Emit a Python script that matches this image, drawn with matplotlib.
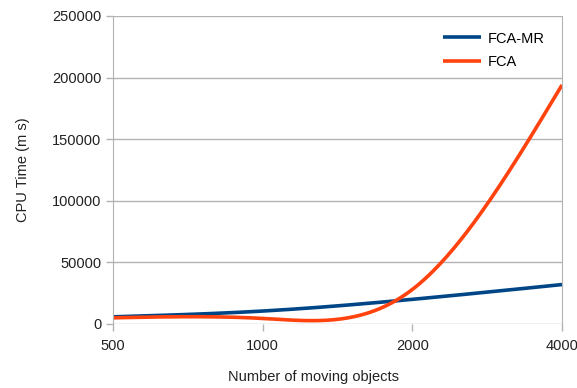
import numpy as np
import matplotlib
matplotlib.use('Agg')
from matplotlib import pyplot as plt

plt.rcParams['font.family'] = ['Liberation Sans', 'DejaVu Sans']

# data (categories are evenly spaced)
objects = ['500', '1000', '2000', '4000']
fca_mr = [5800, 10500, 20000, 32000]
fca = [5000, 4500, 28000, 194000]


def natural_spline(y, n=200):
    # natural cubic spline through evenly spaced points (like the office-suite smoothing)
    y = np.asarray(y, dtype=float)
    k = len(y)
    A = np.zeros((k, k))
    b = np.zeros(k)
    A[0, 0] = 1
    A[-1, -1] = 1
    for i in range(1, k - 1):
        A[i, i - 1:i + 2] = [1, 4, 1]
        b[i] = 6 * (y[i - 1] - 2 * y[i] + y[i + 1])
    M = np.linalg.solve(A, b)
    xs = np.linspace(0, k - 1, n)
    ys = []
    for x in xs:
        i = min(int(x), k - 2)
        t = x - i
        s = (1 - t) * y[i] + t * y[i + 1]
        s += ((1 - t) ** 3 - (1 - t)) * M[i] / 6 + (t ** 3 - t) * M[i + 1] / 6
        ys.append(s)
    return xs, np.array(ys)


fig = plt.figure(figsize=(5.77, 3.88), dpi=100)
ax = fig.add_axes([0.1958, 0.165, 0.7782, 0.7938])

x1, y1 = natural_spline(fca_mr)
x2, y2 = natural_spline(fca)
ax.plot(x1, y1, color='#004586', lw=2.6, label='FCA-MR', solid_capstyle='butt')
ax.plot(x2, y2, color='#ff420e', lw=2.6, label='FCA', solid_capstyle='butt')

ax.set_xlim(0, 3)
ax.set_ylim(0, 250000)
ax.set_xticks(range(len(objects)))
ax.set_xticklabels(objects)
ax.set_yticks(np.arange(0, 250001, 50000))
ax.grid(axis='y', color='#b3b3b3', lw=1)
ax.set_axisbelow(True)
for s in ['top', 'bottom']:
    ax.spines[s].set_visible(False)
ax.spines['left'].set_color('#b3b3b3')
ax.spines['right'].set_color('#b3b3b3')
ax.tick_params(colors='#b3b3b3', labelcolor='#222222', labelsize=10.5, length=5, width=1)
ax.tick_params(axis='x', pad=6)

ax.set_ylabel('CPU Time (m s)', fontsize=10.5, color='#222222')
ax.yaxis.set_label_coords(-0.185, 0.5)
ax.set_xlabel('Number of moving objects', fontsize=10.5, color='#222222', va='center')
ax.xaxis.set_label_coords(0.447, -0.172)

ax.legend(loc='upper right', frameon=False, fontsize=10.5, handlelength=2.65,
          handletextpad=0.45, borderaxespad=0.2, labelspacing=0.65,
          bbox_to_anchor=(0.981, 0.978))

plt.savefig('out.png', dpi=100)
